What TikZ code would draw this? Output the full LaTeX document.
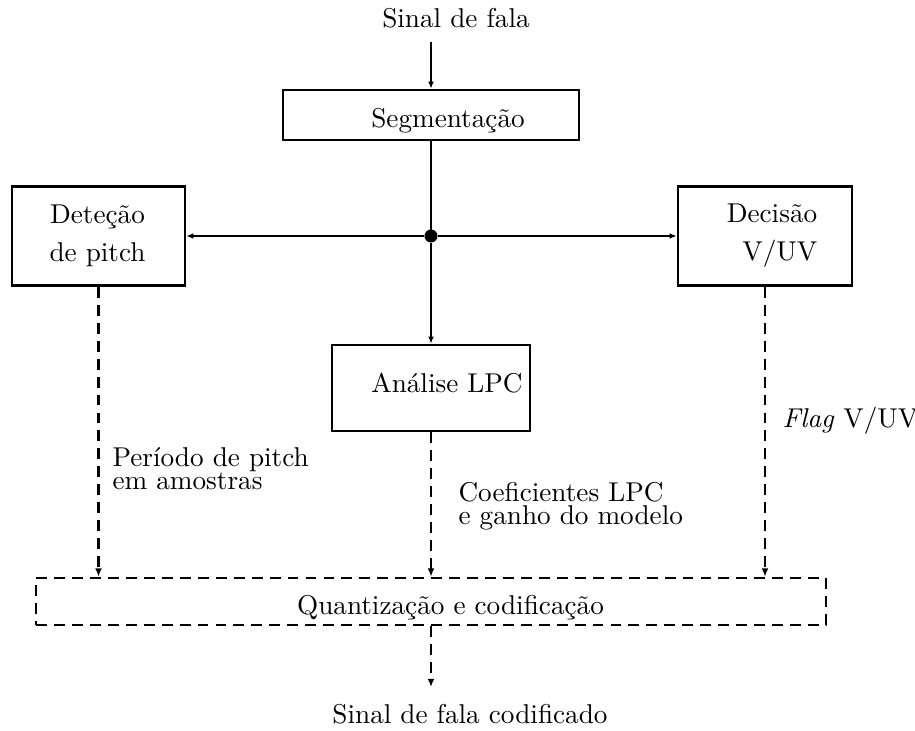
\documentclass[tikz,border=0pt]{standalone}
\usepackage{fontspec}
\usetikzlibrary{arrows.meta}
\newcommand\pu{0.3676pt}
\begin{document}
\begin{tikzpicture}[x=0.3676pt,y=-0.3676pt,
 box/.style={draw,line width=1pt,inner sep=0pt},
 dbox/.style={draw,line width=1pt,inner sep=0pt,dash pattern=on 4pt off 2.6pt},
 txt/.style={inner sep=0pt,anchor=base},
 mtxt/.style={inner sep=0pt,anchor=base,font={\fontsize{10pt}{14pt}\selectfont}},
 ltxt/.style={inner sep=0pt,anchor=base west,align=left,font={\fontsize{10pt}{8.5pt}\selectfont}},
 conn/.style={line width=0.5pt,-{Latex[length=2.6pt,width=2.2pt]}},
 dconn/.style={line width=1pt,dash pattern=on 4pt off 2.6pt,-{Latex[length=3pt,width=2.5pt]}},
 hubdot/.style={circle,fill,inner sep=0pt,minimum size=4.8pt}]
\useasboundingbox (0,0) rectangle (915,731);

% boxes
\node[box,minimum width=296*\pu,minimum height=50*\pu] (seg) at (431,115) {};
\node[box,minimum width=173*\pu,minimum height=99*\pu] (det) at (98.5,236) {};
\node[box,minimum width=174*\pu,minimum height=99*\pu] (dec) at (765,236) {};
\node[box,minimum width=198*\pu,minimum height=86*\pu] (lpc) at (431,388) {};
\node[dbox,minimum width=790*\pu,minimum height=47*\pu] (quant) at (431,601.5) {};

% texts
\node[txt] (inT) at (456,28) {Sinal de fala};
\node[txt] (segT) at (448,128) {Segmentação};
\node[mtxt,align=center] (detT) at (97.5,262) {Deteção\\de pitch};
\node[mtxt,align=right] (decT) at (772,261) {Decisão\\V/UV};
\node[txt] (lpcT) at (447,393) {Análise LPC};
\node[txt] (quantT) at (450.5,614) {Quantização e codificação};
\node[txt] (outT) at (470,723) {Sinal de fala codificado};
\node[ltxt] (perT) at (112,490) {Período de pitch\\em amostras};
\node[ltxt] (coefT) at (458,525) {Coeficientes LPC\\e ganho do modelo};
\node[txt,anchor=base west] (flagT) at (782,427) {\textit{Flag} V/UV};

% connectors
\coordinate (inP) at (431,42);
\coordinate (outP) at (431,687);
\node[hubdot] (hub) at (431,236) {};
\draw[conn] (inP) -- (seg.north);
\draw[line width=0.5pt] (seg.south) -- (hub.center);
\draw[conn] (hub) -- (lpc.north);
\draw[conn] (hub) -- (det.east);
\draw[conn] (hub) -- (dec.west);
\draw[dconn] (det.south) -- (det.south |- quant.north);
\draw[dconn] (lpc.south) -- (quant.north);
\draw[dconn] (dec.south) -- (dec.south |- quant.north);
\draw[dconn] (quant.south) -- (outP);
\end{tikzpicture}
\end{document}
